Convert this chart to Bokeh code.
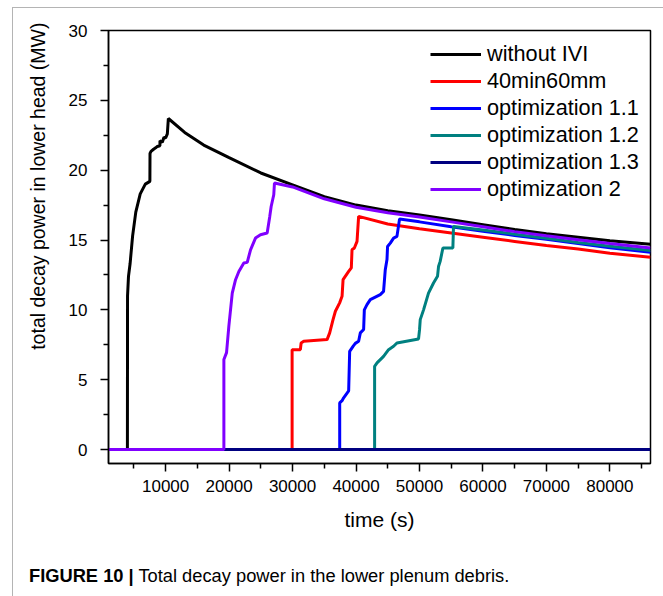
from bokeh.plotting import figure
from bokeh.layouts import column
from bokeh.models import Range1d, FixedTicker, Legend, LegendItem, Title, Div
from bokeh.embed import file_html
from bokeh.resources import INLINE

# ---- data (time in s, power in MW) ----
time_without_ivi = [0, 3980, 4000, 4150, 4400, 4800, 5300, 6000, 6800, 7520, 7540, 7700, 8100,
                    8430, 8700, 9100, 9110, 9480, 9740, 10000, 10270, 10430, 13000, 16000, 20000,
                    25000, 30000, 35000, 40000, 45000, 50000, 55000, 60000, 65000, 70000, 75000,
                    80000, 86400]
power_without_ivi = [0, 0, 11.0, 12.4, 13.3, 15.3, 17.0, 18.3, 19.0, 19.2, 21.2, 21.35, 21.5,
                     21.6, 21.7, 21.75, 22.1, 22.0, 22.35, 22.3, 22.6, 23.7, 22.7, 21.8, 20.9,
                     19.8, 18.95, 18.1, 17.5, 17.1, 16.8, 16.45, 16.1, 15.75, 15.45, 15.2,
                     14.95, 14.7]

time_40min = [0, 29930, 29930, 30450, 31230, 31350, 31760, 35440, 35850, 36380, 36750, 37420,
              37800, 37960, 38840, 39260, 39370, 39740, 40160, 40410, 45000, 50000, 55000,
              60000, 65000, 70000, 75000, 80000, 86400]
power_40min = [0, 0, 7.15, 7.15, 7.15, 7.63, 7.75, 7.87, 8.35, 9.3, 9.9, 10.5,
               10.97, 12.16, 12.75, 13.0, 14.3, 14.43, 14.9, 16.69, 16.15, 15.8, 15.5,
               15.2, 14.9, 14.6, 14.35, 14.05, 13.76]

time_opt11 = [0, 37430, 37430, 37800, 38050, 38840, 39000, 39530, 39890, 40410, 40680, 41200,
              41310, 41730, 42250, 43820, 44340, 44610, 44880, 44970, 45400, 45920, 46450,
              46860, 50000, 55000, 60000, 65000, 70000, 75000, 80000, 86400]
power_opt11 = [0, 0, 3.34, 3.5, 3.7, 4.2, 7.03, 7.39, 7.6, 7.75, 8.35, 8.6,
               10.0, 10.37, 10.73, 11.09, 11.32, 12.88, 13.6, 14.54, 14.78, 15.14, 15.26,
               16.5, 16.3, 15.95, 15.62, 15.33, 15.05, 14.75, 14.45, 14.12]

time_opt12 = [0, 42930, 42930, 43310, 44340, 45130, 45920, 46450, 49850, 50010, 50120, 50640,
              51420, 52210, 52840, 53000, 53260, 53690, 55260, 55360, 60000, 65000, 70000,
              75000, 80000, 86400]
power_opt12 = [0, 0, 5.96, 6.2, 6.67, 7.15, 7.39, 7.63, 7.92, 8.58, 9.3, 10.0,
               11.2, 11.92, 12.4, 13.1, 13.47, 14.43, 14.43, 15.97, 15.72, 15.42, 15.12,
               14.83, 14.55, 14.25]

time_opt13 = [0, 86400]
power_opt13 = [0, 0]

time_opt2 = [0, 19180, 19180, 19600, 19960, 20500, 21020, 21540, 22320, 22860, 23380, 24160,
             24950, 26000, 26410, 26630, 27040, 27150, 30000, 35000, 40000, 45000, 50000,
             55000, 60000, 65000, 70000, 75000, 80000, 86400]
power_opt2 = [0, 0, 6.44, 6.94, 8.82, 11.2, 12.16, 12.75, 13.35, 13.4, 14.3, 15.14,
              15.38, 15.5, 16.69, 17.4, 18.24, 19.08, 18.8, 17.95, 17.35, 16.95, 16.65,
              16.3, 15.95, 15.6, 15.3, 15.02, 14.75, 14.43]

series_names = ["without IVI", "40min60mm", "optimization 1.1", "optimization 1.2",
                "optimization 1.3", "optimization 2"]
series_colors = ["#000000", "#ff0000", "#0000ff", "#008080", "#000080", "#8000ff"]
series_x = [time_without_ivi, time_40min, time_opt11, time_opt12, time_opt13, time_opt2]
series_y = [power_without_ivi, power_40min, power_opt11, power_opt12, power_opt13, power_opt2]

x_ticks = [10000, 20000, 30000, 40000, 50000, 60000, 70000, 80000]
x_minor = [5000, 15000, 25000, 35000, 45000, 55000, 65000, 75000, 85000]
y_ticks = [0, 5, 10, 15, 20, 25, 30]
y_minor = [2.5, 7.5, 12.5, 17.5, 22.5, 27.5]

caption_bold = "FIGURE 10 |"
caption_text = "Total decay power in the lower plenum debris."

FONT = "Liberation Sans"
GREY = "1.5px solid #b4b4b4"

p = figure(width=653, height=536, output_backend="svg", toolbar_location=None,
           x_range=Range1d(1000, 86400), y_range=Range1d(-1, 30),
           min_border_left=101, min_border_right=10, min_border_top=22, min_border_bottom=81,
           x_axis_label="time (s)")
p.styles = {"margin-left": "-6px"}
p.xgrid.visible = False
p.ygrid.visible = False
p.outline_line_color = "black"
p.outline_line_width = 1.5
p.outline_line_alpha = 1.0
p.background_fill_color = "white"
p.border_fill_color = None

p.xaxis.ticker = FixedTicker(ticks=x_ticks, minor_ticks=x_minor)
p.yaxis.ticker = FixedTicker(ticks=y_ticks, minor_ticks=y_minor)
for ax in (p.xaxis, p.yaxis):
    ax.axis_line_width = 1.5
    ax.axis_line_color = "black"
    ax.major_tick_line_width = 1.5
    ax.minor_tick_line_width = 1.5
    ax.major_tick_line_color = "black"
    ax.minor_tick_line_color = "black"
    ax.major_tick_out = 8
    ax.major_tick_in = 0
    ax.minor_tick_out = 5
    ax.minor_tick_in = 0
    ax.major_label_text_font = FONT
    ax.major_label_text_font_size = "17px"
    ax.major_label_text_color = "black"
    ax.axis_label_text_font = FONT
    ax.axis_label_text_font_style = "normal"
    ax.axis_label_text_color = "black"
p.xaxis.major_label_standoff = 8
p.yaxis.major_label_standoff = 13
p.xaxis.axis_label_text_font_size = "21px"
p.xaxis.axis_label_standoff = 13

ytitle = Title(text="total decay power in lower head (MW)", align="right", offset=-8,
               vertical_align="top",
               text_font=FONT, text_font_size="19.5px", text_font_style="normal",
               text_color="black", standoff=30)
p.add_layout(ytitle, "left")

items = []
for name, col, xs, ys in zip(series_names, series_colors, series_x, series_y):
    r = p.line(xs, ys, line_color=col, line_width=3)
    items.append(LegendItem(label=name, renderers=[r]))

legend = Legend(items=items, location=(322, 261))
legend.border_line_color = None
legend.background_fill_alpha = 0
legend.label_text_font = FONT
legend.label_text_font_size = "21.7px"
legend.label_text_color = "black"
legend.glyph_width = 51
legend.glyph_height = 24
legend.label_height = 24
legend.label_standoff = 6
legend.spacing = 1
legend.padding = 0
legend.margin = 0
p.add_layout(legend)

caption_html = (
    "<div style=\"padding:16px 0 0 11px; margin:0; font-family:'Liberation Sans'; "
    "font-size:18.3px; line-height:normal; color:#000; white-space:nowrap;\">"
    "<b>" + caption_bold + "</b> " + caption_text + "</div>"
)
cap = Div(text=caption_html, width=647, height=48)

layout = column(p, cap, spacing=0,
                styles={"border-left": GREY, "border-top": GREY, "border-right": GREY,
                        "margin-left": "12px", "margin-top": "7px"})

open("out.html", "w").write(file_html(layout, INLINE))
